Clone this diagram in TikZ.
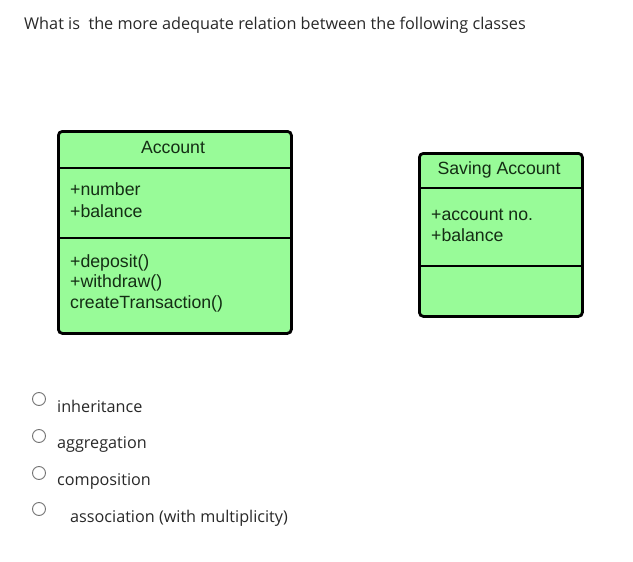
\documentclass[tikz,border=0pt]{standalone}
\usepackage{fontspec}
\setmainfont{Open Sans}
\newfontfamily\boxfont{Liberation Sans}
\definecolor{boxgreen}{RGB}{152,251,152}
\definecolor{txtgray}{RGB}{40,40,40}
\definecolor{boxink}{RGB}{20,45,20}
\begin{document}
\begin{tikzpicture}[x=1pt,y=-1pt,
  classbox/.style={draw=black, line width=2.8pt, fill=boxgreen, rounded corners=4pt, inner sep=0pt, anchor=north west},
  divider/.style={line width=2.8pt},
  boxtext/.style={font=\boxfont\fontsize{17.7}{20}\selectfont, inner sep=0pt, text=boxink},
  attr/.style={boxtext, anchor=base west},
  radio/.style={circle, draw=black!55, line width=0.9pt, minimum size=13pt, inner sep=0pt},
  opttext/.style={font=\fontsize{16.2}{18}\selectfont, anchor=base west, inner sep=0pt, text=txtgray}]
\useasboundingbox (0,0) rectangle (633,562);
% question
\node[font=\fontsize{16.25}{20}\selectfont, anchor=base west, inner sep=0pt, text=txtgray] (q) at (24,30)
  {What is\ \ the more adequate relation between the following classes};
% Account class
\node[classbox, minimum width=233pt, minimum height=202pt] (acc) at (57,130) {};
\draw[divider] ([yshift=-38pt]acc.north west) -- ([yshift=-38pt]acc.north east);
\draw[divider] ([yshift=-108pt]acc.north west) -- ([yshift=-108pt]acc.north east);
\node[boxtext, anchor=base] (accname) at (173,153) {Account};
\node[attr] (a1) at (70,195) {+number};
\node[attr] (a2) at (70,217) {+balance};
\node[attr] (m1) at (70,267) {+deposit()};
\node[attr] (m2) at (70,287) {+withdraw()};
\node[attr] (m3) at (70,308) {createTransaction()};
% Saving Account class
\node[classbox, minimum width=163pt, minimum height=163pt] (sav) at (418,152) {};
\draw[divider] ([yshift=-36pt]sav.north west) -- ([yshift=-36pt]sav.north east);
\draw[divider] ([yshift=-114pt]sav.north west) -- ([yshift=-114pt]sav.north east);
\node[boxtext, anchor=base] (savname) at (499,174) {Saving Account};
\node[attr] (s1) at (431,220) {+account no.};
\node[attr] (s2) at (431,241) {+balance};
% options
\node[radio] (r1) at (39,399) {};
\node[radio] (r2) at (39,436) {};
\node[radio] (r3) at (39,473) {};
\node[radio] (r4) at (39,509) {};
\node[opttext] (o1) at (57,412) {inheritance};
\node[opttext] (o2) at (57,448) {aggregation};
\node[opttext] (o3) at (57,485) {composition};
\node[opttext] (o4) at (70,522) {association (with multiplicity)};
\end{tikzpicture}
\end{document}
